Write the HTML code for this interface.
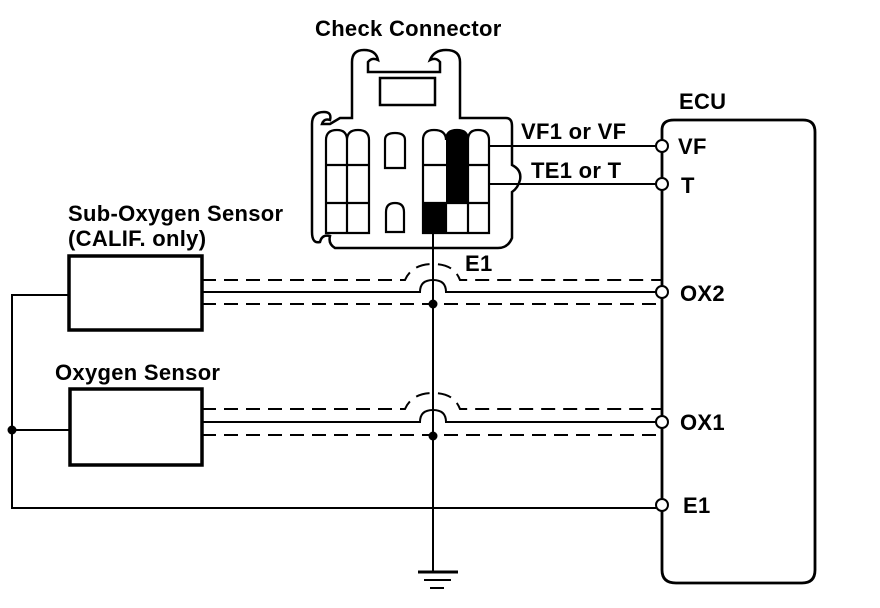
<!DOCTYPE html>
<html><head><meta charset="utf-8"><style>
html,body{margin:0;padding:0;background:#fff;}
svg{display:block;}
text{font-family:"Liberation Sans",sans-serif;font-weight:bold;font-size:22px;letter-spacing:0.3px;fill:#000;}
</style></head><body>
<svg width="880" height="608" viewBox="0 0 880 608" xmlns="http://www.w3.org/2000/svg">
<g fill="none" stroke="#000" stroke-width="2.2">
<path d="M352,118 L352,62 Q352,50 364,50 Q376,50 378,60 Q372,57 368,62 L368,72 L440,72 L440,62 Q436,57 430,60 Q434,50 446,50 Q460,50 460,62 L460,118 L506,118 Q512,118 512,126 L512,165 Q522,170 520,180 Q518,188 512,192 L512,238 Q508,248 498,248 L335,248 Q328,244 330,236 Q322,234 320,242 Q312,244 312,232 L312,124 Q312,112 324,112 Q332,112 330,120 Q324,118 322,124 L330,124 L340,118 Z" stroke-width="2.5"/>
<rect x="380" y="78" width="55" height="27" stroke-width="2.5"/>
<path d="M326,233 L326,140 Q326,130 337,130 Q347,130 347,140 Q347,130 358,130 Q369,130 369,140 L369,233 Z"/>
<line x1="347" y1="140" x2="347" y2="233"/>
<line x1="326" y1="165" x2="369" y2="165"/>
<line x1="326" y1="203" x2="369" y2="203"/>
<path d="M385,168 L385,140 Q385,133 395,133 Q405,133 405,140 L405,168 Z"/>
<path d="M386,232 L386,212 Q386,203 395,203 Q404,203 404,212 L404,232 Z"/>
<path d="M423,233 L423,140 Q423,130 434,130 Q446,130 446,140 Q446,130 457,130 Q468,130 468,140 Q468,130 478,130 Q489,130 489,140 L489,233 Z"/>
<line x1="468" y1="140" x2="468" y2="233"/>
<line x1="423" y1="165" x2="489" y2="165"/>
<line x1="423" y1="203" x2="489" y2="203"/>
<line x1="446" y1="203" x2="446" y2="233"/>
</g>
<path d="M446,203 L446,140 Q446,130 457,130 Q468,130 468,140 L468,203 Z" fill="#000"/>
<rect x="423" y="203" width="23" height="30" fill="#000"/>
<g fill="none" stroke="#000" stroke-width="2">
<line x1="489" y1="146" x2="656" y2="146"/>
<line x1="489" y1="184" x2="656" y2="184"/>
<path d="M662,140 L662,130 Q662,120 674,120 L803,120 Q815,120 815,132 L815,570 Q815,583 802,583 L676,583 Q662,583 662,570 Z" stroke-width="2.8"/>
<rect x="69" y="256" width="133" height="74" stroke-width="3.5"/>
<rect x="70" y="389" width="132" height="76" stroke-width="3.5"/>
<polyline points="69,295 12,295 12,508 656,508"/>
<line x1="12" y1="430" x2="70" y2="430"/>
<line x1="433" y1="233" x2="433" y2="572"/>
<line x1="418" y1="572" x2="458" y2="572" stroke-width="3"/>
<line x1="424" y1="580" x2="451" y2="580"/>
<line x1="430" y1="588" x2="444" y2="588"/>
<path d="M202,292 L420,292 Q420,280 433,280 Q446,280 446,292 L656,292"/>
<path d="M202,280 L405,280 Q412,264 433,264 Q454,264 460,280 L662,280" stroke-dasharray="14,8"/>
<line x1="202" y1="304" x2="662" y2="304" stroke-dasharray="14,8"/>
<path d="M202,422 L420,422 Q420,410 433,410 Q446,410 446,422 L656,422"/>
<path d="M202,409 L405,409 Q412,393 433,393 Q454,393 460,409 L662,409" stroke-dasharray="14,8"/>
<line x1="202" y1="435" x2="662" y2="435" stroke-dasharray="14,8"/>
</g>
<g fill="#000">
<circle cx="12" cy="430" r="4.5"/>
<circle cx="433" cy="304" r="4.5"/>
<circle cx="433" cy="436" r="4.5"/>
</g>
<g fill="#fff" stroke="#000" stroke-width="2">
<circle cx="662" cy="146" r="6"/>
<circle cx="662" cy="184" r="6"/>
<circle cx="662" cy="292" r="6"/>
<circle cx="662" cy="422" r="6"/>
<circle cx="662" cy="505" r="6"/>
</g>
<text x="315" y="36">Check Connector</text>
<text x="521" y="139">VF1 or VF</text>
<text x="531" y="178">TE1 or T</text>
<text x="679" y="109">ECU</text>
<text x="678" y="154">VF</text>
<text x="681" y="193">T</text>
<text x="680" y="301">OX2</text>
<text x="680" y="430">OX1</text>
<text x="683" y="513">E1</text>
<text x="465" y="271">E1</text>
<text x="68" y="221">Sub-Oxygen Sensor</text>
<text x="68" y="246">(CALIF. only)</text>
<text x="55" y="380">Oxygen Sensor</text>
</svg>
</body></html>
